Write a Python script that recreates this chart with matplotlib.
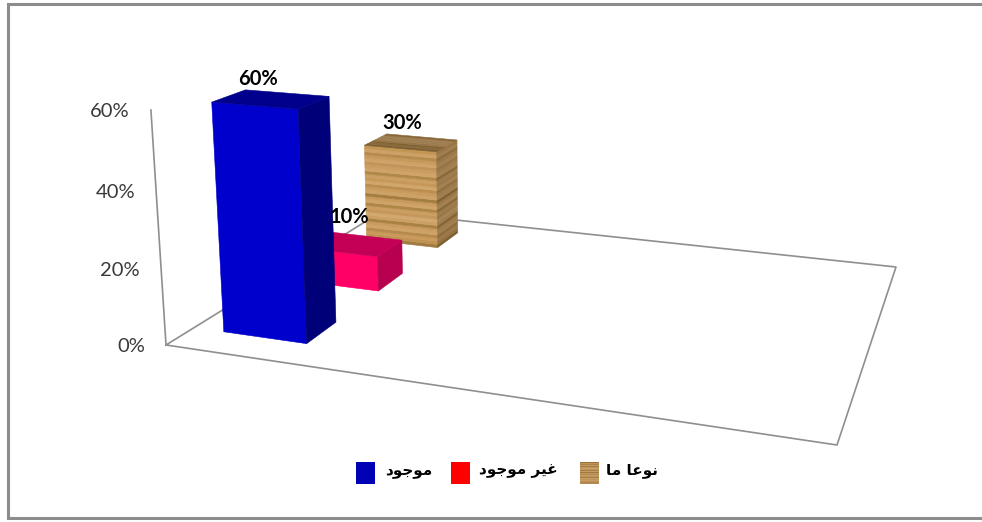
#!/usr/bin/python
import numpy as np
import matplotlib
matplotlib.use('Agg')
import matplotlib.pyplot as plt
from matplotlib.patches import Polygon, Rectangle

W, H = 982, 522

series_names = ['موجود', 'غير موجود', 'نوعا ما']
series_values = [60, 10, 30]
value_labels = ['60%', '10%', '30%']
axis_ticks = [0, 20, 40, 60]
tick_labels = ['0%', '20%', '40%', '60%']

# grain of the wood fill, bottom to top
wood_grain = ['#a07a3e', '#c09252', '#c99a5c', '#b58a4c', '#cfa268', '#ca9b5e', '#a98142', '#cc9f64',
              '#d2a86e', '#c4975a', '#cb9d60', '#ae8646', '#d0a469', '#c89a5c', '#a47d40', '#cea266',
              '#c99c5e', '#bb8e50', '#d1a66b', '#c69858', '#cb9e62', '#b08847', '#d0a469', '#ca9d60',
              '#c0945a', '#cfa367', '#c79a5c', '#b68c4e', '#cda165', '#c29554']

# floor corners on the canvas: front-left, front-right, back-right, back-left
FLOOR = np.array([[166, 345], [837, 445], [896, 267], [381, 212]], dtype=float)
# how the height axis leans, per percentage point
HEIGHT_COL = np.array([-0.363, -3.998, -0.00074])

BAR_X = (0.053, 0.197)
BAR_DEPTH = 0.128
BAR_Y = [1/6, 1/2, 5/6]
LABEL_OFFSET = [(-13, -20), (-2, -27), (-9, -20)]


def floor_matrix(p):
    # unit square to quadrilateral
    (x0, y0), (x1, y1), (x2, y2), (x3, y3) = p
    dx1, dx2, sx = x1 - x2, x3 - x2, x0 - x1 + x2 - x3
    dy1, dy2, sy = y1 - y2, y3 - y2, y0 - y1 + y2 - y3
    det = dx1 * dy2 - dx2 * dy1
    g = (sx * dy2 - dx2 * sy) / det
    h = (dx1 * sy - sx * dy1) / det
    return np.array([[x1 - x0 + g * x1, x3 - x0 + h * x3, x0],
                     [y1 - y0 + g * y1, y3 - y0 + h * y3, y0],
                     [g, h, 1.0]])


M = floor_matrix(FLOOR)


def project(x, y, z):
    q = M @ np.array([x, y, 1.0]) + HEIGHT_COL * z
    return q[0] / q[2], q[1] / q[2]


def quad(ax, pts, color, zorder):
    ax.add_patch(Polygon([project(*p) for p in pts], closed=True, fc=color, ec=color, lw=0.4, zorder=zorder))


def shade(color, f):
    return tuple(c * f for c in matplotlib.colors.to_rgb(color))


def draw_box(ax, y0, value, front, side, top, zorder):
    x0, x1 = BAR_X
    y1 = y0 + BAR_DEPTH
    quad(ax, [(x0, y0, 0), (x1, y0, 0), (x1, y0, value), (x0, y0, value)], front, zorder)
    quad(ax, [(x1, y0, 0), (x1, y1, 0), (x1, y1, value), (x1, y0, value)], side, zorder)
    quad(ax, [(x0, y0, value), (x1, y0, value), (x1, y1, value), (x0, y1, value)], top, zorder)


def draw_wood(ax, y0, value, zorder):
    x0, x1 = BAR_X
    y1 = y0 + BAR_DEPTH
    n = len(wood_grain)
    for i, col in enumerate(wood_grain):
        z0, z1 = value * i / n, value * (i + 1) / n
        quad(ax, [(x0, y0, z0), (x1, y0, z0), (x1, y0, z1), (x0, y0, z1)], col, zorder)
        quad(ax, [(x1, y0, z0), (x1, y1, z0), (x1, y1, z1), (x1, y0, z1)], shade(col, 0.78), zorder)
    # end grain on top
    m = 8
    for i in range(m):
        a, b = y0 + BAR_DEPTH * i / m, y0 + BAR_DEPTH * (i + 1) / m
        col = shade(wood_grain[i * 3], 0.76)
        quad(ax, [(x0, a, value), (x1, a, value), (x1, b, value), (x0, b, value)], col, zorder)


# joined forms of the letters used: isolated, final, initial, medial
FORMS = {
    'م': '\ufee1\ufee2\ufee3\ufee4',
    'ج': '\ufe9d\ufe9e\ufe9f\ufea0',
    'غ': '\ufecd\ufece\ufecf\ufed0',
    'ع': '\ufec9\ufeca\ufecb\ufecc',
    'ي': '\ufef1\ufef2\ufef3\ufef4',
    'ن': '\ufee5\ufee6\ufee7\ufee8',
    'و': '\ufeed\ufeee\ufeed\ufeee',
    'د': '\ufea9\ufeaa\ufea9\ufeaa',
    'ر': '\ufead\ufeae\ufead\ufeae',
    'ا': '\ufe8d\ufe8e\ufe8d\ufe8e',
}
NO_LEFT_JOIN = 'ودرا'


def shape(text):
    # matplotlib lays text out left to right with no joining
    out = []
    for word in text.split(' '):
        letters = []
        for i, c in enumerate(word):
            after_join = i > 0 and word[i - 1] not in NO_LEFT_JOIN
            before_join = i < len(word) - 1 and c not in NO_LEFT_JOIN
            idx = {(False, False): 0, (True, False): 1, (False, True): 2, (True, True): 3}[(after_join, before_join)]
            letters.append(FORMS[c][idx])
        out.append(''.join(reversed(letters)))
    return ' '.join(reversed(out))


plt.rcParams['font.family'] = ['Lato', 'DejaVu Sans']

fig = plt.figure(figsize=(W / 100, H / 100), dpi=100, facecolor='white')
ax = fig.add_axes([0, 0, 1, 1])
ax.set_xlim(0, W)
ax.set_ylim(H, 0)
ax.axis('off')

# chart frame, runs off the right side
ax.plot([W + 5, 8, 8, W + 5], [3.5, 3.5, 518, 518], color='#8c8c8c', lw=2.2, solid_joinstyle='miter', zorder=1)

# floor and wall edges
edge = dict(color='#8f8f8f', lw=1.2, zorder=2)
corners = [project(0, 0, 0), project(1, 0, 0), project(1, 1, 0), project(0, 1, 0), project(0, 0, 0)]
ax.plot([c[0] for c in corners], [c[1] for c in corners], **edge)
wall = [project(0, 0, 0), project(0, 0, max(axis_ticks))]
ax.plot([c[0] for c in wall], [c[1] for c in wall], **edge)

for z, lab in zip(axis_ticks, tick_labels):
    u, v = project(0, 0, z)
    ax.text(u - 21, v + 1.5, lab, ha='right', va='center', fontsize=14.5, color='#3a3a3a', zorder=6)

# back to front
draw_wood(ax, BAR_Y[2] - BAR_DEPTH / 2, series_values[2], 3)
draw_box(ax, BAR_Y[1] - BAR_DEPTH / 2, series_values[1], '#ff0066', '#b80050', '#c40056', 4)
draw_box(ax, BAR_Y[0] - BAR_DEPTH / 2, series_values[0], '#0000cc', '#000078', '#00008c', 5)

for i, lab in enumerate(value_labels):
    u, v = project(sum(BAR_X) / 2, BAR_Y[i], series_values[i])
    ax.text(u + LABEL_OFFSET[i][0], v + LABEL_OFFSET[i][1], lab, ha='center', va='center',
            fontsize=14.5, fontweight='bold', color='black', zorder=7)

# legend
legend_x = [356, 451, 580]
text_x = [385, 479, 606]
for i, name in enumerate(series_names):
    if i == 2:
        n = len(wood_grain)
        for j, col in enumerate(wood_grain):
            ax.add_patch(Rectangle((legend_x[i], 462 + 22 * j / n), 19, 22 / n + 0.3, fc=shade(col, 0.95), ec='none', zorder=3))
    else:
        ax.add_patch(Rectangle((legend_x[i], 462), 19, 22, fc=['#0000b4', '#ff0000'][i], ec='none', zorder=3))
    ax.text(text_x[i], 470, shape(name), ha='left', va='center', fontsize=11, fontweight='bold',
            family=['DejaVu Sans'], color='black', zorder=7)

fig.savefig('out.png', dpi=100)
